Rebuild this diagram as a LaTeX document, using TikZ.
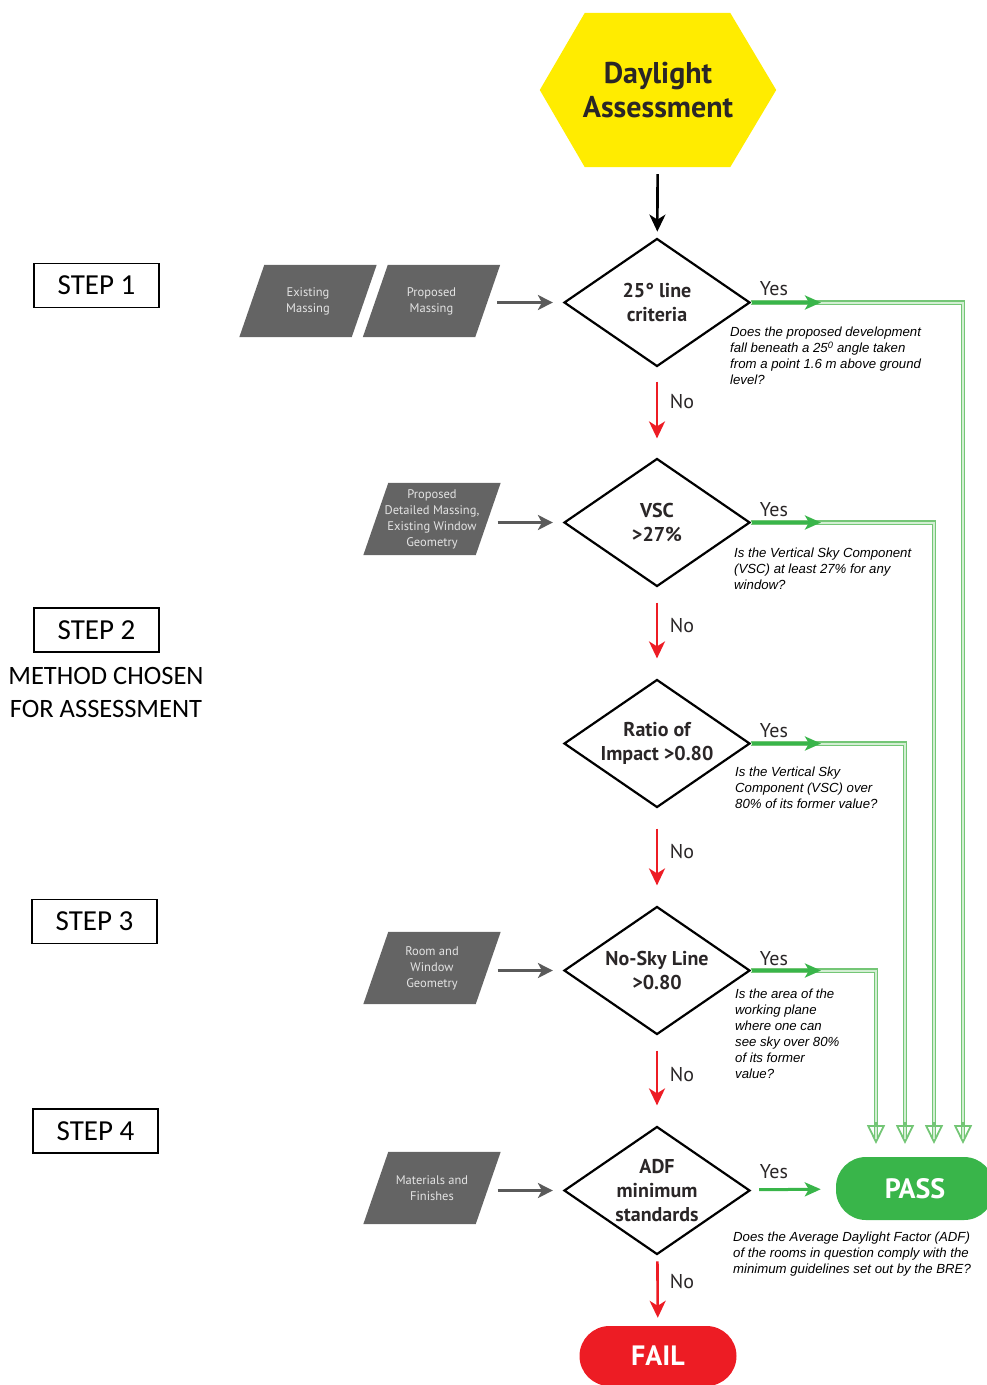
\documentclass[tikz,border=0pt]{standalone}
\usepackage{fontspec}
\setmainfont{PT Sans}
\newfontfamily\qfont{Liberation Sans}
\newfontfamily\stepfont{Carlito}
\usetikzlibrary{shapes.geometric,arrows.meta,calc,backgrounds}
\definecolor{hexyellow}{HTML}{FFEC00}
\definecolor{redc}{HTML}{ED1C24}
\definecolor{greenc}{HTML}{39B54A}
\definecolor{lightg}{HTML}{74C676}
\definecolor{paleg}{HTML}{D3EED3}
\definecolor{paragray}{HTML}{646464}
\definecolor{paratext}{HTML}{E4E4E4}
\definecolor{textdark}{HTML}{2A2627}
\definecolor{arrgray}{HTML}{5A5A5A}
\begin{document}
\begin{tikzpicture}[x=1pt,y=-1pt,
  hexbox/.style={minimum width=236pt, minimum height=154pt, inner sep=0pt, align=center,
    font=\bfseries\fontsize{30}{34}\selectfont, text=textdark},
  dia/.style={diamond, draw=black, line width=2.2pt, minimum width=186pt, minimum height=128pt, inner sep=0pt},
  dtext/.style={font=\bfseries\fontsize{20}{24}\selectfont, text=textdark, align=center},
  para/.style={minimum width=137pt, minimum height=72pt, inner sep=0pt, align=center,
    font=\fontsize{12.5}{16}\selectfont, text=paratext},
  lab/.style={font=\fontsize{20}{24}\selectfont, text=textdark, inner sep=0pt},
  qtext/.style={anchor=north west, inner sep=0pt, align=left, font=\qfont\itshape\fontsize{13.2}{16}\selectfont},
  stepbox/.style={draw=black, line width=1.8pt, minimum width=125pt, minimum height=44pt, inner sep=0pt,
    font=\stepfont\fontsize{29}{32}\selectfont},
  pill/.style={rounded corners=30pt, inner sep=0pt, text=white, font=\bfseries\fontsize{28}{32}\selectfont},
  blk/.style={draw=black, line width=2.6pt, -{Stealth[length=17pt,width=16pt,inset=5pt]}},
  noarr/.style={draw=redc, line width=2.6pt, -{Stealth[length=17pt,width=16pt,inset=5pt]}},
  grayarr/.style={draw=arrgray, line width=2.6pt, -{Stealth[length=15pt,width=15pt,inset=4pt]}},
  yesarr/.style={draw=greenc, line width=3pt, -{Stealth[length=16pt,width=14pt,inset=4pt]}},
  yesline/.style={draw=lightg, line width=1.3pt, double=paleg, double distance=2pt},
  yestip/.style={draw=lightg, line width=1.8pt, -{Triangle[open,length=19pt,width=18pt]}}
]
\useasboundingbox (0,0) rectangle (986,1385);

% ---- title hexagon
\node[hexbox] (hex) at (658,90) {Daylight\\Assessment};

% ---- decision diamonds
\node[dia, label={[dtext]center:{25° line\\criteria}}] (d1) at (657,302.5) {};
\node[dia, label={[dtext]center:{VSC\\>27\%}}] (d2) at (657,522.5) {};
\node[dia, label={[dtext]center:{Ratio of\\Impact >0.80}}] (d3) at (657,743.5) {};
\node[dia, label={[dtext]center:{No-Sky Line\\>0.80}}] (d4) at (657,970.5) {};
\node[dia, label={[dtext]center:{ADF\\minimum\\standards}}] (d5) at (657,1190.5) {};

% ---- end states
\node[pill, fill=greenc, minimum width=158pt, minimum height=63pt] (pass) at (915,1188.5) {PASS};
\node[pill, fill=redc, minimum width=157pt, minimum height=60pt] (fail) at (658,1356) {FAIL};

% ---- inputs
\node[para] (p1) at (308,301) {Existing\\Massing};
\node[para] (p2) at (431.5,301) {Proposed\\Massing};
\node[para] (p3) at (432,519) {Proposed\\Detailed Massing,\\Existing Window\\Geometry};
\node[para] (p4) at (432,968) {Room and\\Window\\Geometry};
\node[para] (p5) at (432,1188) {Materials and\\Finishes};

\begin{scope}[on background layer]
  \fill[hexyellow] (hex.west) -- ([xshift=45pt]hex.north west) -- ([xshift=-46pt]hex.north east)
    -- (hex.east) -- ([xshift=-46pt]hex.south east) -- ([xshift=45pt]hex.south west) -- cycle;
  \foreach \p in {p1,p2,p3,p4,p5}
    \fill[paragray] (\p.south west) -- ([xshift=25pt]\p.north west) -- (\p.north east)
      -- ([xshift=-25pt]\p.south east) -- cycle;
\end{scope}

% ---- steps
\node[stepbox] (s1) at (96.5,285.5) {STEP 1};
\node[stepbox] (s2) at (96.5,630) {STEP 2};
\node[align=center, inner sep=0pt, font=\stepfont\fontsize{26.5}{33}\selectfont] (m2) at (106,692) {METHOD CHOSEN\\FOR ASSESSMENT};
\node[stepbox] (s3) at (94.5,921.5) {STEP 3};
\node[stepbox] (s4) at (95.5,1131) {STEP 4};

% ---- main flow
\draw[blk, shorten <=7pt, shorten >=6pt] (hex) -- (d1);
\draw[noarr, shorten <=14pt, shorten >=19pt] (d1) -- (d2);
\draw[noarr, shorten <=15pt, shorten >=20pt] (d2) -- (d3);
\draw[noarr, shorten <=20pt, shorten >=20pt] (d3) -- (d4);
\draw[noarr, shorten <=15pt, shorten >=20pt] (d4) -- (d5);
\draw[noarr, shorten <=6pt, shorten >=8pt] (d5) -- (fail);
\node[lab] (n1) at (682,402) {No};
\node[lab] (n2) at (682,625) {No};
\node[lab] (n3) at (682,851) {No};
\node[lab] (n4) at (682,1074) {No};
\node[lab] (n5) at (682,1281) {No};

% ---- input arrows
\draw[grayarr, shorten <=-3pt, shorten >=10pt] (p2.east |- d1.west) -- (d1.west);
\draw[grayarr, shorten <=-3pt, shorten >=10pt] (p3.east |- d2.west) -- (d2.west);
\draw[grayarr, shorten <=-3pt, shorten >=10pt] (p4.east |- d4.west) -- (d4.west);
\draw[grayarr, shorten <=-3pt, shorten >=10pt] (p5.east |- d5.west) -- (d5.west);

% ---- yes routes
\coordinate (t1) at (963,1144);
\coordinate (t2) at (934,1144);
\coordinate (t3) at (905,1144);
\coordinate (t4) at (876,1144);
\coordinate (g1) at (821,302.5);
\coordinate (g2) at (821,522.5);
\coordinate (g3) at (821,743.5);
\coordinate (g4) at (821,970.5);
\draw[yesline, shorten >=6pt] (d1.east) -| (t1);
\draw[yesline, shorten >=6pt] (d2.east) -| (t2);
\draw[yesline, shorten >=6pt] (d3.east) -| (t3);
\draw[yesline, shorten >=6pt] (d4.east) -| (t4);
\foreach \t in {t1,t2,t3,t4}
  \draw[yestip] ([yshift=22pt]\t) -- (\t);
\draw[yesarr, shorten <=1pt] (d1.east) -- (g1);
\draw[yesarr, shorten <=1pt] (d2.east) -- (g2);
\draw[yesarr, shorten <=1pt] (d3.east) -- (g3);
\draw[yesarr, shorten <=1pt] (d4.east) -- (g4);
\draw[yesarr, shorten <=9pt, shorten >=15pt] (d5) -- (pass);
\node[lab] (y1) at (774,289) {Yes};
\node[lab] (y2) at (774,510) {Yes};
\node[lab] (y3) at (774,731) {Yes};
\node[lab] (y4) at (774,959) {Yes};
\node[lab] (y5) at (774,1172) {Yes};

% ---- questions
\node[qtext] (q1) at (730,327) {Does the proposed development\\fall beneath a 25\textsuperscript{0} angle taken\\from a point 1.6 m above ground\\level?};
\node[qtext] (q2) at (734,548) {Is the Vertical Sky Component\\(VSC) at least 27\% for any\\window?};
\node[qtext] (q3) at (735,767) {Is the Vertical Sky\\Component (VSC) over\\80\% of its former value?};
\node[qtext] (q4) at (735,989) {Is the area of the\\working plane\\where one can\\see sky over 80\%\\of its former\\value?};
\node[qtext] (q5) at (733,1232) {Does the Average Daylight Factor (ADF)\\of the rooms in question comply with the\\minimum guidelines set out by the BRE?};
\end{tikzpicture}
\end{document}
